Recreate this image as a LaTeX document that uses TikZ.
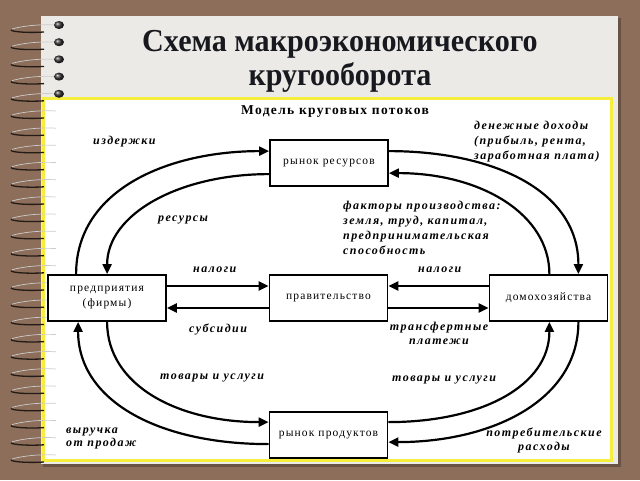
\documentclass[tikz,border=0pt]{standalone}
\usepackage{fontspec}
\setmainfont{Liberation Serif}
\newfontfamily\lblfont[LetterSpace=12]{Liberation Serif}
\newfontfamily\boxfont[LetterSpace=10]{Liberation Serif}
\newfontfamily\headfont[LetterSpace=10]{Liberation Serif}
\newfontfamily\titlefont[FakeStretch=0.94]{Liberation Serif}
\usetikzlibrary{arrows.meta,calc}
\definecolor{bgbrown}{HTML}{8C6E5A}
\definecolor{paper}{HTML}{ECEAE7}
\definecolor{ylw}{HTML}{F6EE3C}
\definecolor{ttl}{HTML}{18181F}
\begin{document}
\begin{tikzpicture}[x=1pt,y=-1pt,
 box/.style={draw=black,line width=1.8pt,fill=white,minimum width=118pt,minimum height=46pt,inner sep=0pt,align=center,font=\boxfont\fontsize{11.5}{15}\selectfont},
 flow/.style={line width=2.2pt,-{Triangle[length=10pt,width=9pt]}},
 lbl/.style={font=\lblfont\bfseries\itshape\fontsize{12}{15}\selectfont,inner sep=0pt},
 ringdark/.style={draw=black!75!bgbrown,line width=1.3pt},
 ringlight/.style={draw=white!60!gray,line width=0.7pt},
]
\useasboundingbox (0,0) rectangle (640,480);
\fill[bgbrown] (0,0) rectangle (640,480);
\fill[black,opacity=.25] (43,18) rectangle (621,467);
\fill[paper] (41,16) rectangle (618,464);
\fill[white] (44,99) rectangle (611,459);
\draw[ylw,line width=3pt] (43.5,98.5) rectangle (611.5,460.5);
% spiral rings
\foreach \y in {25,42.2,...,456}{
  \draw[ringdark] (44,\y+7) .. controls (30,\y+8) and (12,\y+7) .. (11,\y+5);
  \draw[ringlight] (56,\y) .. controls (40,\y-1) and (22,\y+1) .. (12,\y+4);
}
\foreach \y in {25,42.2,...,95}{
  \shade[ball color=black!80] (59,\y) ellipse (5pt and 4pt);
}
% title
\node[font=\titlefont\bfseries\fontsize{32}{36}\selectfont,text=ttl] (t1) at (340,44) {Схема макроэкономического};
\node[font=\titlefont\bfseries\fontsize{32}{36}\selectfont,text=ttl] (t2) at (340,77) {кругооборота};
\node[font=\headfont\bfseries\fontsize{13.5}{16}\selectfont] (head) at (335,112) {Модель круговых потоков};
% boxes
\node[box] (res) at (329,163) {рынок ресурсов};
\node[box] (firm) at (107,298) {предприятия\\(фирмы)};
\node[box] (gov) at (328.5,298) {правительство};
\node[box] (hh) at (548.5,298) {домохозяйства};
\node[box] (prod) at (328.5,435) {рынок продуктов};
% horizontal flows
\draw[flow] ([yshift=12pt]firm.east) -- ([yshift=12pt]gov.west);
\draw[flow] ([yshift=-10pt]gov.west) -- ([yshift=-10pt]firm.east);
\draw[flow] ([yshift=12pt]hh.west) -- ([yshift=12pt]gov.east);
\draw[flow] ([yshift=-10pt]gov.east) -- ([yshift=-10pt]hh.west);
% curved flows
\coordinate (a1) at ([xshift=29pt]firm.north west);
\coordinate (b1) at ([yshift=-12pt]res.north west);
\draw[flow] (a1) .. controls ($(a1)+(0,-85)$) and ($(b1)+(-100,0)$) .. (b1);
\coordinate (a2) at ([yshift=-35pt]res.north west);
\coordinate (b2) at ([xshift=60pt]firm.north west);
\draw[flow] (a2) .. controls ($(a2)+(-90,0)$) and ($(b2)+(0,-60)$) .. (b2);
\coordinate (a3) at ([yshift=-12pt]res.north east);
\coordinate (b3) at ([xshift=-30pt]hh.north east);
\draw[flow] (a3) .. controls ($(a3)+(102,0)$) and ($(b3)+(0,-85)$) .. (b3);
\coordinate (a4) at ([xshift=-59pt]hh.north east);
\coordinate (b4) at ([yshift=-34pt]res.north east);
\draw[flow] (a4) .. controls ($(a4)+(0,-60)$) and ($(b4)+(92,0)$) .. (b4);
\coordinate (a5) at ([xshift=60pt]firm.south west);
\coordinate (b5) at ([yshift=-11pt]prod.north west);
\draw[flow] (a5) .. controls ($(a5)+(0,64)$) and ($(b5)+(-90,0)$) .. (b5);
\coordinate (a6) at ([yshift=-33pt]prod.north west);
\coordinate (b6) at ([xshift=31pt]firm.south west);
\draw[flow] (a6) .. controls ($(a6)+(-110,0)$) and ($(b6)+(0,79)$) .. (b6);
\coordinate (a7) at ([yshift=-11pt]prod.north east);
\coordinate (b7) at ([xshift=-59pt]hh.south east);
\draw[flow] (a7) .. controls ($(a7)+(93,0)$) and ($(b7)+(0,64)$) .. (b7);
\coordinate (a8) at ([xshift=-30pt]hh.south east);
\coordinate (b8) at ([yshift=-31pt]prod.north east);
\draw[flow] (a8) .. controls ($(a8)+(0,79)$) and ($(b8)+(103,0)$) .. (b8);
% labels
\node[lbl,anchor=west] (l1) at (93,142) {издержки};
\node[lbl,anchor=west] (l2) at (158,220) {ресурсы};
\node[lbl,anchor=west] (l3) at (193,270) {налоги};
\node[lbl,anchor=west] (l4) at (189,329) {субсидии};
\node[lbl,anchor=west] (l5) at (160,378) {товары и услуги};
\node[lbl,anchor=west,align=left,font=\lblfont\bfseries\itshape\fontsize{12}{13}\selectfont] (l6) at (66,438) {выручка\\от продаж};
\node[lbl,anchor=west,align=left] (l7) at (474,142) {денежные доходы\\(прибыль, рента,\\заработная плата)};
\node[lbl,anchor=west,align=left] (l8) at (343,227.5) {факторы производства:\\земля, труд, капитал,\\предпринимательская\\способность};
\node[lbl,anchor=west] (l9) at (418,270) {налоги};
\node[lbl,align=center,font=\lblfont\bfseries\itshape\fontsize{12}{14}\selectfont] (l10) at (439,333) {трансфертные\\платежи};
\node[lbl,anchor=west] (l11) at (392,380) {товары и услуги};
\node[lbl,align=center,font=\lblfont\bfseries\itshape\fontsize{12}{14}\selectfont] (l12) at (544,440) {потребительские\\расходы};
\end{tikzpicture}
\end{document}
